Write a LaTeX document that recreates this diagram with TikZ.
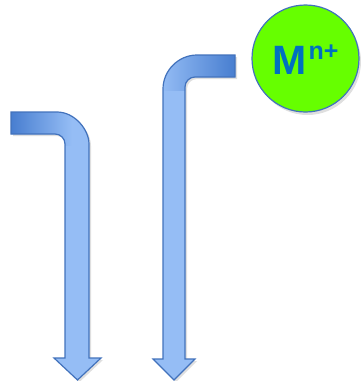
\documentclass[tikz,border=0pt]{standalone}
\usepackage{fontspec}
\setmainfont{Liberation Sans}
\usetikzlibrary{shadows}
\definecolor{arrdark}{RGB}{72,126,208}
\definecolor{arrlight}{RGB}{149,189,245}
\definecolor{arredge}{RGB}{66,114,188}
\definecolor{iongreen}{RGB}{102,255,0}
\definecolor{iontext}{RGB}{0,112,192}
\tikzset{
  arrowfill/.style={fill=arrlight, drop shadow={opacity=0.25, shadow xshift=2pt, shadow yshift=-2pt}},
  arrowedge/.style={draw=arredge, line width=1.2pt, line join=miter},
  ionball/.style={circle, minimum size=107pt, inner sep=0pt, fill=iongreen, draw=arredge, line width=1.2pt,
    drop shadow={opacity=0.25, shadow xshift=2pt, shadow yshift=-3pt}},
  iontxt/.style={inner sep=0pt, text=iontext, font=\bfseries}
}
\def\leftpath{(11,112) -- (57,112) .. controls (74.7,112) and (89,129.7) .. (89,144) -- (89,358) -- (101,358) -- (77.5,380) -- (54,358) -- (65,358) -- (65,144) .. controls (65,138.5) and (60.5,134) .. (55,134) -- (11,134) -- cycle}
\def\rightpath{(235,55) -- (197,55) .. controls (178.5,55) and (163,70.5) .. (163,89) -- (163,359) -- (153,359) -- (174,380) -- (195,359) -- (185,359) -- (185,87) .. controls (185,81.5) and (189.5,77) .. (195,77) -- (235,77) -- cycle}
\begin{document}
\begin{tikzpicture}[x=1pt,y=-1pt]
\useasboundingbox (0,0) rectangle (360,381);
% left arrow
\path[arrowfill] \leftpath;
\begin{scope}
  \clip \leftpath;
  \shade[left color=arrdark, right color=arrlight] (11,100) rectangle (72,145);
\end{scope}
\path[arrowedge] \leftpath;
% right arrow
\path[arrowfill] \rightpath;
\begin{scope}
  \clip \rightpath;
  \shade[left color=arrlight, right color=arrdark] (160,45) rectangle (235,90);
\end{scope}
\path[arrowedge] \rightpath;
% metal ion
\node[ionball] (ion) at (305.5,58.5) {};
\node[iontxt, anchor=base west] (mtext) at (272.5,74) {\fontsize{41}{41}\selectfont M};
\node[iontxt, anchor=base west] (ntext) at (308.5,59) {\fontsize{25}{25}\selectfont n+};
\end{tikzpicture}
\end{document}
